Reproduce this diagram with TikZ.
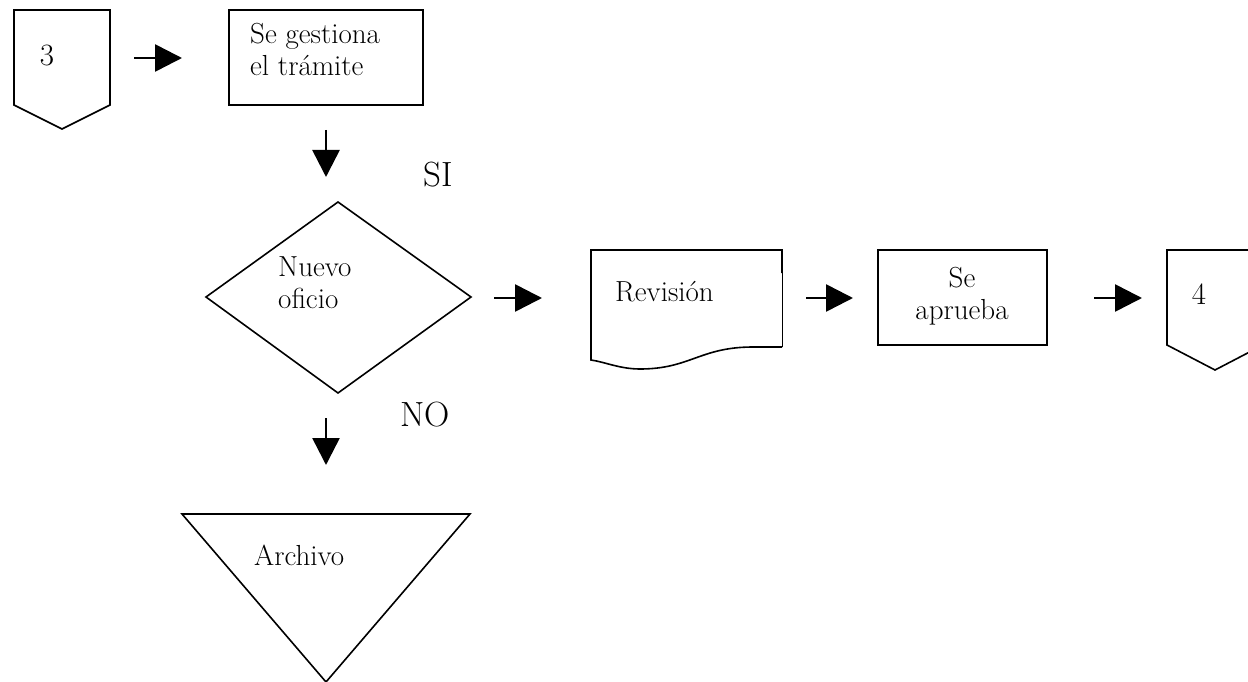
\documentclass[tikz,border=0pt]{standalone}
\usepackage{fontspec}
\usetikzlibrary{arrows.meta}
\begin{document}
\begin{tikzpicture}[x=1pt,y=-1pt,
  shapeline/.style={draw=black,line width=1.6pt,line join=miter},
  flowarrow/.style={line width=2.6pt,-{Triangle[length=27pt,width=27pt]}},
  body/.style={inner sep=0pt,font=\fontsize{29}{32}\selectfont},
  big/.style={inner sep=0pt,font=\fontsize{35}{38}\selectfont},
  digit/.style={inner sep=0pt,font=\fontsize{31}{34}\selectfont}]
\useasboundingbox (0,0) rectangle (1248,682);
\clip (0,0) rectangle (1248,682);

% off-page connector 3
\draw[shapeline] (14,10) -- (110,10) -- (110,105) -- (62,129) -- (14,105) -- cycle;
\node[digit] (n3) at (47,56) {3};

% process: Se gestiona el trámite
\draw[shapeline] (229,10) rectangle (423,105);
\node[body,anchor=base west,align=left] (gest) at (250,76) {Se gestiona\\el trámite};

% decision: Nuevo oficio
\draw[shapeline] (338,202) -- (471,297) -- (338,393) -- (206,297) -- cycle;
\node[body,anchor=base west,align=left] (nuevo) at (278,308) {Nuevo\\oficio};
\node[big,anchor=base west] (si) at (423,186) {SI};
\node[big,anchor=base west] (no) at (400,426) {NO};

% document: Revisión
\draw[shapeline] (782,273) -- (782,250) -- (591,250) -- (591,360)
  .. controls (605,362) and (620,369) .. (640,369)
  .. controls (690,369) and (700,347) .. (753,347) -- (782,347);
\draw[black,line width=0.7pt] (782,273) -- (782,347);
\node[body,anchor=base west] (rev) at (615,301) {Revisión};

% process: Se aprueba
\draw[shapeline] (878,250) rectangle (1047,345);
\node[body,anchor=base,align=center] (aprueba) at (962,319) {Se\\aprueba};

% off-page connector 4
\draw[shapeline] (1167,250) -- (1263,250) -- (1263,345) -- (1215,370) -- (1167,345) -- cycle;
\node[digit] (n4) at (1199,294) {4};

% storage: Archivo
\draw[shapeline] (182,514) -- (470,514) -- (326,682) -- cycle;
\node[body,anchor=base west] (arch) at (254,565) {Archivo};

% flow arrows
\coordinate (a1s) at (134,58);  \coordinate (a1e) at (182,58);
\coordinate (a2s) at (326,130); \coordinate (a2e) at (326,177);
\coordinate (a3s) at (494,298); \coordinate (a3e) at (542,298);
\coordinate (a4s) at (806,298); \coordinate (a4e) at (853,298);
\coordinate (a5s) at (1094,298); \coordinate (a5e) at (1142,298);
\coordinate (a6s) at (326,418); \coordinate (a6e) at (326,465);
\foreach \k in {1,...,6} \draw[flowarrow] (a\k s) -- (a\k e);
\end{tikzpicture}
\end{document}
